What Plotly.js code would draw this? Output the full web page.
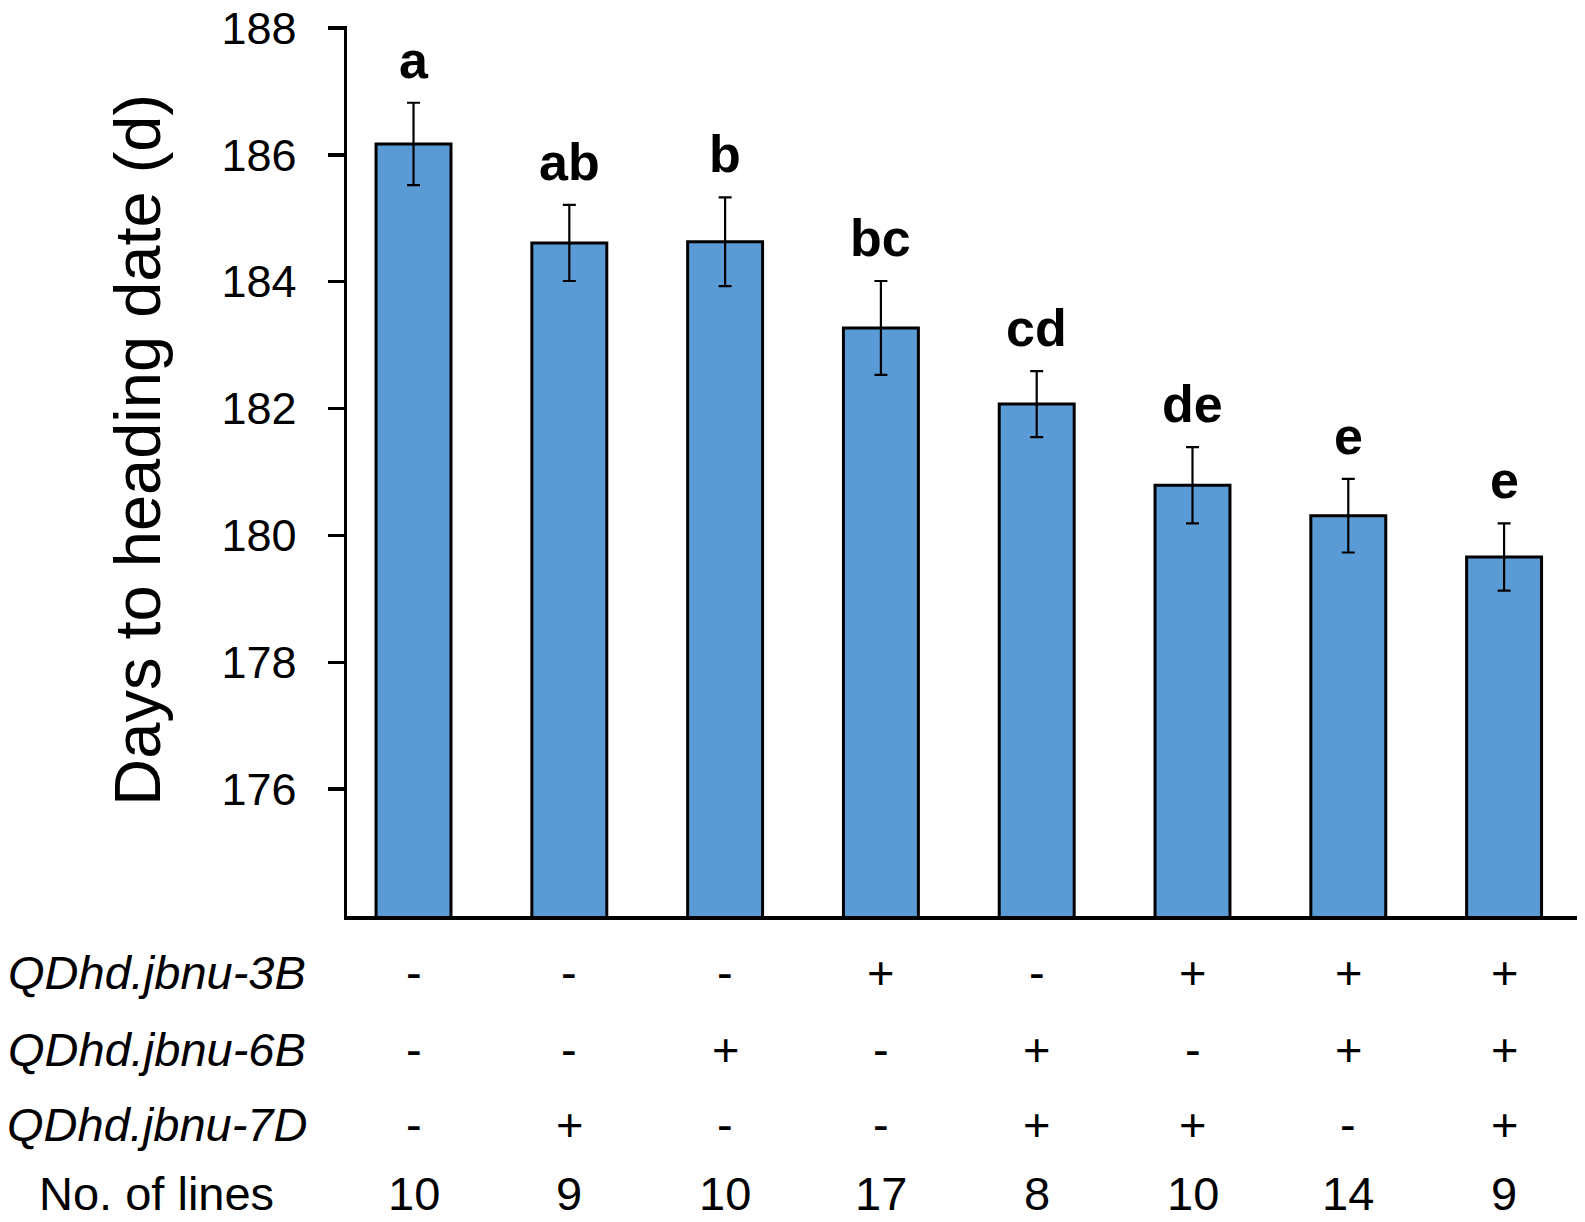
<!DOCTYPE html>
<html>
<head>
<meta charset="utf-8">
<script src="https://cdn.plot.ly/plotly-3.0.1.min.js"></script>
<style>
html,body{margin:0;padding:0;background:#fff;}
#chart{width:1585px;height:1222px;}
</style>
</head>
<body>
<div id="chart"></div>
<script>
// ---- data ----
const qtl3B = ['-','-','-','+','-','+','+','+'];
const qtl6B = ['-','-','+','-','+','-','+','+'];
const qtl7D = ['-','+','-','-','+','+','-','+'];
const nLines = [10, 9, 10, 17, 8, 10, 14, 9];
const means = [186.17, 184.61, 184.63, 183.27, 182.07, 180.79, 180.31, 179.66];
const se = [0.65, 0.60, 0.70, 0.74, 0.52, 0.60, 0.58, 0.53];
const letters = ['a', 'ab', 'b', 'bc', 'cd', 'de', 'e', 'e'];
const rowLabels = ['QDhd.jbnu-3B', 'QDhd.jbnu-6B', 'QDhd.jbnu-7D', 'No. of lines'];
const yTitle = 'Days to heading date (d)';
const yTicks = [176, 178, 180, 182, 184, 186, 188];

// category keys built from the genotype combinations
const categories = qtl3B.map((v, i) => v + qtl6B[i] + qtl7D[i]);

const FONT = 'Liberation Sans, Arial, sans-serif';

const trace = {
  type: 'bar',
  x: categories,
  y: means,
  marker: {color: '#5B9BD5', line: {color: '#000', width: 3}},
  error_y: {type: 'data', array: se, visible: true, color: '#000', thickness: 2.2, width: 6.5},
  hoverinfo: 'skip'
};

// plot area geometry (px)
const T = 26, B = 306, H = 1222 - T - B;
const py = p => (1222 - B - p) / H;   // pixel row -> paper y

const annotations = [];
// significance letters
categories.forEach((c, i) => {
  annotations.push({
    x: c, y: means[i] + se[i], xref: 'x', yref: 'y',
    text: letters[i], showarrow: false, xanchor: 'center', yanchor: 'bottom',
    yshift: 12, font: {family: FONT, size: 52, color: '#000', weight: 'bold'}
  });
});
// table rows
const rowY = [py(972), py(1049), py(1124), py(1222)];
const rowAnchor = ['middle', 'middle', 'middle', 'bottom'];
const rowValues = [qtl3B, qtl6B, qtl7D, nLines];
rowValues.forEach((vals, r) => {
  const label = r < 3 ? '<i>' + rowLabels[r] + '</i>' : rowLabels[r];
  annotations.push({
    x: -0.1545, y: rowY[r], xref: 'paper', yref: 'paper',
    text: label, showarrow: false, xanchor: 'center', yanchor: rowAnchor[r],
    font: {family: FONT, size: 47, color: '#000'}
  });
  vals.forEach((v, i) => {
    annotations.push({
      x: categories[i], y: rowY[r], xref: 'x', yref: 'paper',
      text: String(v), showarrow: false, xanchor: 'center', yanchor: rowAnchor[r],
      font: {family: FONT, size: 47, color: '#000'}
    });
  });
});
// y axis title
annotations.push({
  x: -0.171, y: py(450), xref: 'paper', yref: 'paper', textangle: -90,
  text: yTitle, showarrow: false, xanchor: 'center', yanchor: 'middle',
  font: {family: FONT, size: 65, color: '#000'}
});

const layout = {
  width: 1585, height: 1222,
  margin: {l: 347, r: 8, t: T, b: B, pad: 0},
  paper_bgcolor: '#fff', plot_bgcolor: '#fff',
  showlegend: false,
  bargap: 0.519,
  font: {family: FONT, color: '#000'},
  xaxis: {
    type: 'category', range: [-0.427, 7.468],
    showline: true, linecolor: '#000', linewidth: 3.5,
    ticks: '', showticklabels: false, showgrid: false, zeroline: false, fixedrange: true
  },
  yaxis: {
    range: [174, 188.03], tickvals: yTicks, ticktext: yTicks.map(String),
    showline: true, linecolor: '#000', linewidth: 3.5,
    ticks: 'outside', ticklen: 16, tickwidth: 3.5, tickcolor: '#000',
    ticklabelstandoff: 22, ticklabeloverflow: 'allow',
    tickfont: {family: FONT, size: 45, color: '#000'},
    showgrid: false, zeroline: false, fixedrange: true
  },
  annotations: annotations
};

Plotly.newPlot('chart', [trace], layout, {displayModeBar: false, staticPlot: true});
</script>
</body>
</html>
